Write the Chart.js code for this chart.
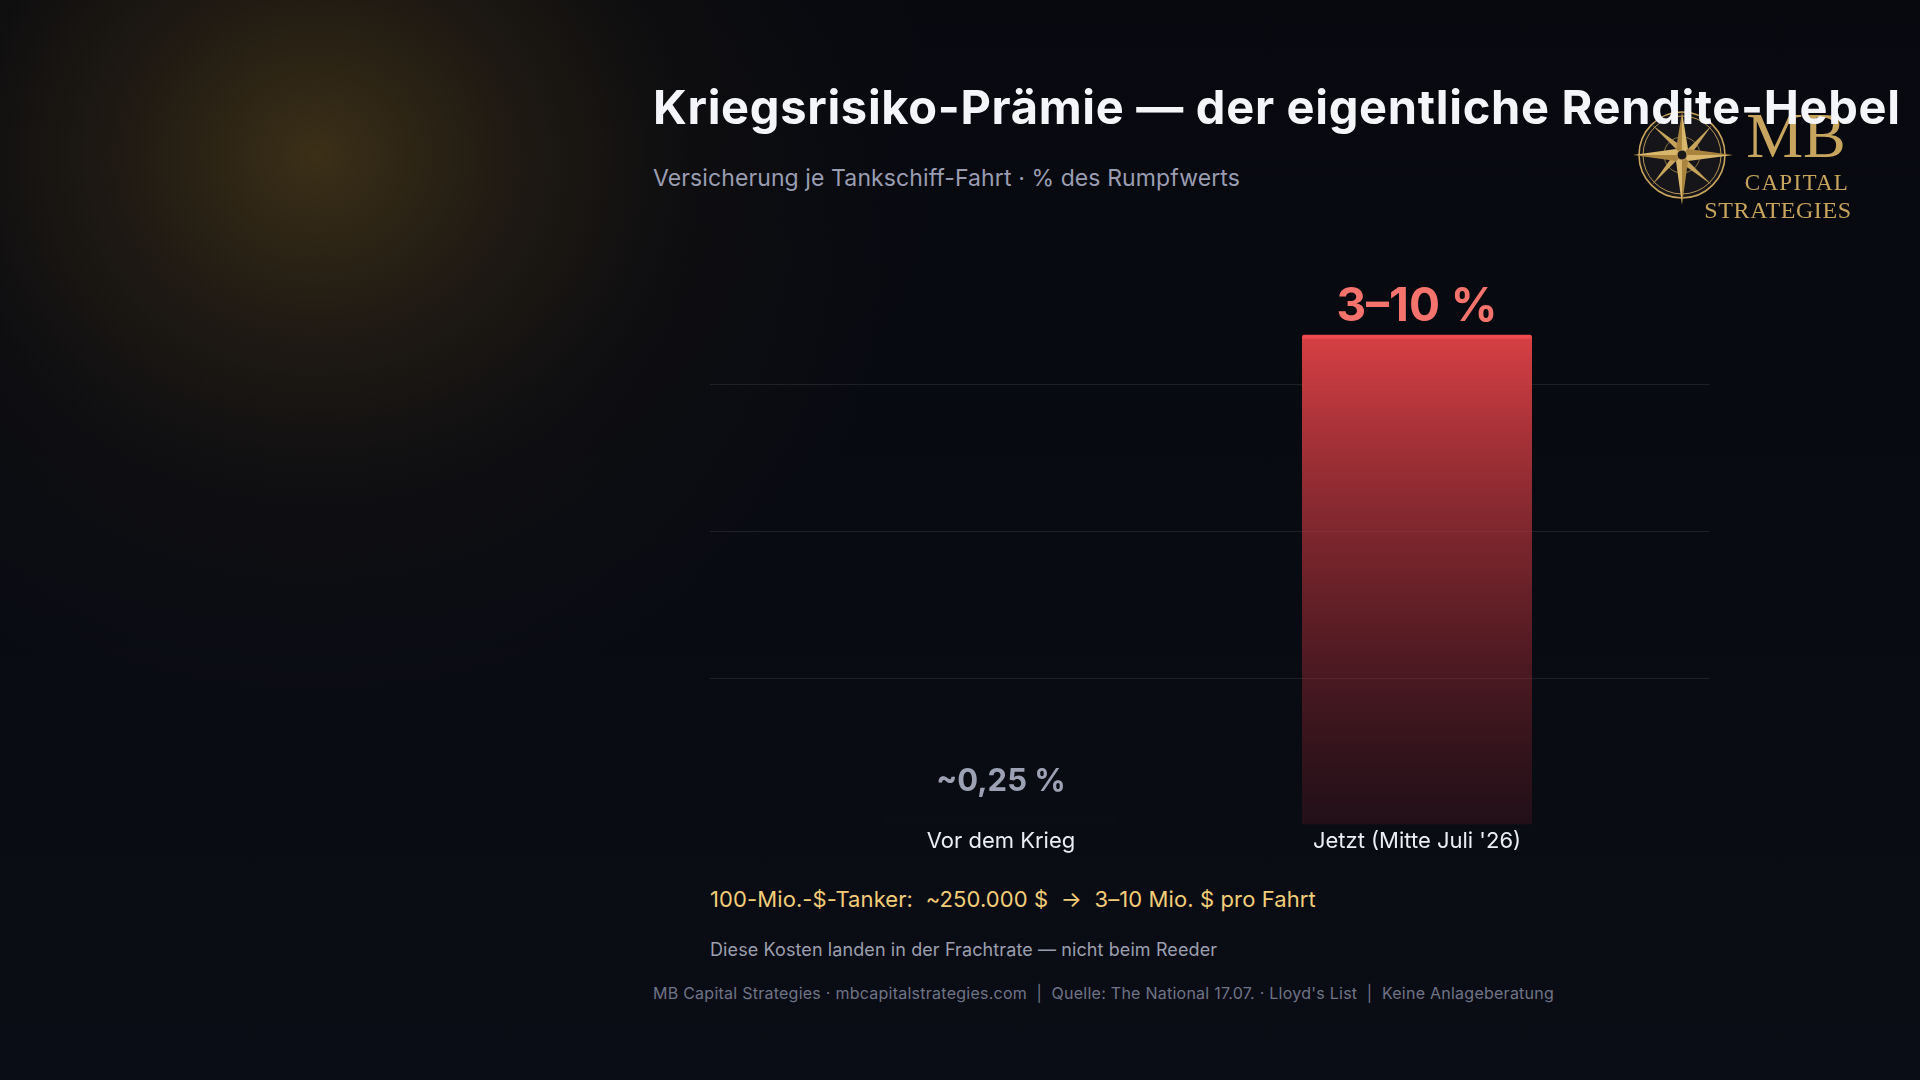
<!DOCTYPE html>
<html><head><meta charset="utf-8">
<script src="https://cdn.jsdelivr.net/npm/chart.js@4.4.1/dist/chart.umd.min.js"></script>
<style>
html,body{margin:0;padding:0;width:1920px;height:1080px;overflow:hidden;}
body{position:relative;font-family:Inter,"Noto Sans",sans-serif;
background:
 radial-gradient(ellipse 620px 560px at 316px 155px, rgba(125,95,32,0.44) 0%, rgba(95,70,26,0.28) 30%, rgba(55,40,18,0.13) 60%, rgba(0,0,0,0) 100%),
 linear-gradient(180deg,#07090f 0%,#090b12 50%,#0b0d16 100%);}
.t{position:absolute;white-space:nowrap;line-height:1;}
#title{left:653px;top:83px;font-size:47px;font-weight:700;color:#f4f5f9;letter-spacing:0.7px;z-index:3;}
#sub{left:653px;top:167px;font-size:23px;color:#9a9db2;letter-spacing:0.1px;}
#hl{left:710px;top:888px;font-size:22px;color:#f2cd78;letter-spacing:0.1px;}
#note{left:710px;top:941px;font-size:18px;color:#9b9fae;letter-spacing:0.1px;}
#foot{left:653px;top:985px;font-size:16px;color:#6f7486;letter-spacing:0.25px;}
#logo{position:absolute;left:1620px;top:95px;z-index:2;}
canvas{position:absolute;left:0;top:0;}
</style></head>
<body>
<div class="t" id="title">Kriegsrisiko-Prämie — der eigentliche Rendite-Hebel</div>
<div class="t" id="sub">Versicherung je Tankschiff-Fahrt · % des Rumpfwerts</div>
<svg id="logo" width="260" height="130" viewBox="1620 95 260 130">
 <g transform="translate(1682,155)">
  <circle r="43" fill="#16161a" stroke="#c7a35c" stroke-width="1.6"/>
  <circle r="39" fill="none" stroke="#c7a35c" stroke-width="0.9"/>
  <circle r="18" fill="none" stroke="#c7a35c" stroke-width="0.8" opacity="0.8"/>
  <g fill="#c7a35c">
   <polygon points="0,0 -5,-5 -30,-30 5,-5"/>
   <polygon points="0,0 5,-5 30,-30 5,5"/>
   <polygon points="0,0 5,5 30,30 -5,5"/>
   <polygon points="0,0 -5,5 -30,30 -5,-5"/>
  </g>
  <g>
   <polygon points="0,-43 6,-6 0,0" fill="#d8b66c"/><polygon points="0,-43 -6,-6 0,0" fill="#a8843f"/>
   <polygon points="0,50 6,6 0,0" fill="#a8843f"/><polygon points="0,50 -6,6 0,0" fill="#d8b66c"/>
   <polygon points="-49,0 -6,-6 0,0" fill="#d8b66c"/><polygon points="-49,0 -6,6 0,0" fill="#a8843f"/>
   <polygon points="51,0 6,-6 0,0" fill="#a8843f"/><polygon points="51,0 6,6 0,0" fill="#d8b66c"/>
  </g>
  <circle r="5" fill="#1a1a1a" stroke="#c7a35c" stroke-width="1"/>
 </g>
 <g fill="#c8a55e" font-family="'Liberation Serif','DejaVu Serif',serif">
  <text x="1796" y="157" font-size="64" text-anchor="middle">MB</text>
  <text x="1797" y="190" font-size="23" text-anchor="middle" letter-spacing="1.3">CAPITAL</text>
  <text x="1778" y="218" font-size="24" text-anchor="middle" letter-spacing="0.6">STRATEGIES</text>
 </g>
</svg>
<div class="t" id="hl">100-Mio.-$-Tanker:&nbsp; ~250.000 $ &nbsp;→&nbsp; 3–10 Mio. $ pro Fahrt</div>
<div class="t" id="note">Diese Kosten landen in der Frachtrate — nicht beim Reeder</div>
<div class="t" id="foot">MB Capital Strategies · mbcapitalstrategies.com &nbsp;|&nbsp; Quelle: The National 17.07. · Lloyd's List &nbsp;|&nbsp; Keine Anlageberatung</div>
<canvas id="c" width="1920" height="1080"></canvas>
<script>
// ---- data ----
const categories = ["Vor dem Krieg", "Jetzt (Mitte Juli '26)"];
const premiumPct = [0.25, 10];
const valueLabels = ["~0,25 %", "3–10 %"];
const gridValues = [3, 6, 9];
const yMax = 12;
const yStep = 3;

// ---- styles ----
const labelColors = ["#9ca1b4", "#f4736c"];
const labelFonts = ["700 31px Inter", "700 46px Inter"];
const labelGaps = [21, 14];

const gridPlugin = {
  id: 'extGrid',
  beforeDatasetsDraw(chart) {
    const {ctx, chartArea, scales} = chart;
    ctx.save();
    ctx.strokeStyle = 'rgba(255,255,255,0.085)';
    ctx.lineWidth = 1;
    gridValues.forEach(v => {
      const y = Math.round(scales.y.getPixelForValue(v)) + 0.5;
      ctx.beginPath();
      ctx.moveTo(chartArea.left - 83, y);
      ctx.lineTo(chartArea.right + 85, y);
      ctx.stroke();
    });
    ctx.restore();
  }
};
const labelPlugin = {
  id: 'valLabels',
  afterDatasetsDraw(chart) {
    const {ctx} = chart;
    const meta = chart.getDatasetMeta(0);
    ctx.save();
    ctx.textAlign = 'center';
    ctx.textBaseline = 'alphabetic';
    meta.data.forEach((bar, i) => {
      ctx.font = labelFonts[i];
      ctx.fillStyle = labelColors[i];
      ctx.fillText(valueLabels[i], bar.x, bar.y - labelGaps[i]);
    });
    ctx.restore();
  }
};

new Chart(document.getElementById('c'), {
  type: 'bar',
  data: {
    labels: categories,
    datasets: [{
      data: premiumPct,
      barThickness: 230,
      backgroundColor(ctx) {
        const chart = ctx.chart;
        const ca = chart.chartArea;
        if (!ca) return '#c33';
        if (ctx.dataIndex === 0) return 'rgba(140,150,170,0.012)';
        const y0 = chart.scales.y.getPixelForValue(premiumPct[1]);
        const g = chart.ctx.createLinearGradient(0, y0, 0, ca.bottom);
        g.addColorStop(0, 'rgba(222,66,70,0.97)');
        g.addColorStop(0.5, 'rgba(170,48,56,0.62)');
        g.addColorStop(1, 'rgba(120,30,40,0.22)');
        return g;
      },
      borderColor(ctx) { return ctx.dataIndex === 0 ? 'rgba(0,0,0,0)' : '#ec4a4c'; },
      borderWidth: {top: 4, left: 0, right: 0, bottom: 0},
      borderSkipped: 'bottom',
      borderRadius: {topLeft: 2, topRight: 2}
    }]
  },
  options: {
    responsive: false,
    animation: false,
    layout: {padding: {left: 793, right: 295, top: 237, bottom: 221}},
    plugins: {legend: {display: false}, tooltip: {enabled: false}},
    scales: {
      x: {
        grid: {display: false, drawTicks: false},
        border: {display: false},
        ticks: {color: '#eceef4', font: {family: 'Inter', size: 22}, padding: 4}
      },
      y: {
        display: false,
        min: 0, max: yMax,
        ticks: {stepSize: yStep}
      }
    }
  },
  plugins: [gridPlugin, labelPlugin]
});
</script>
</body></html>
